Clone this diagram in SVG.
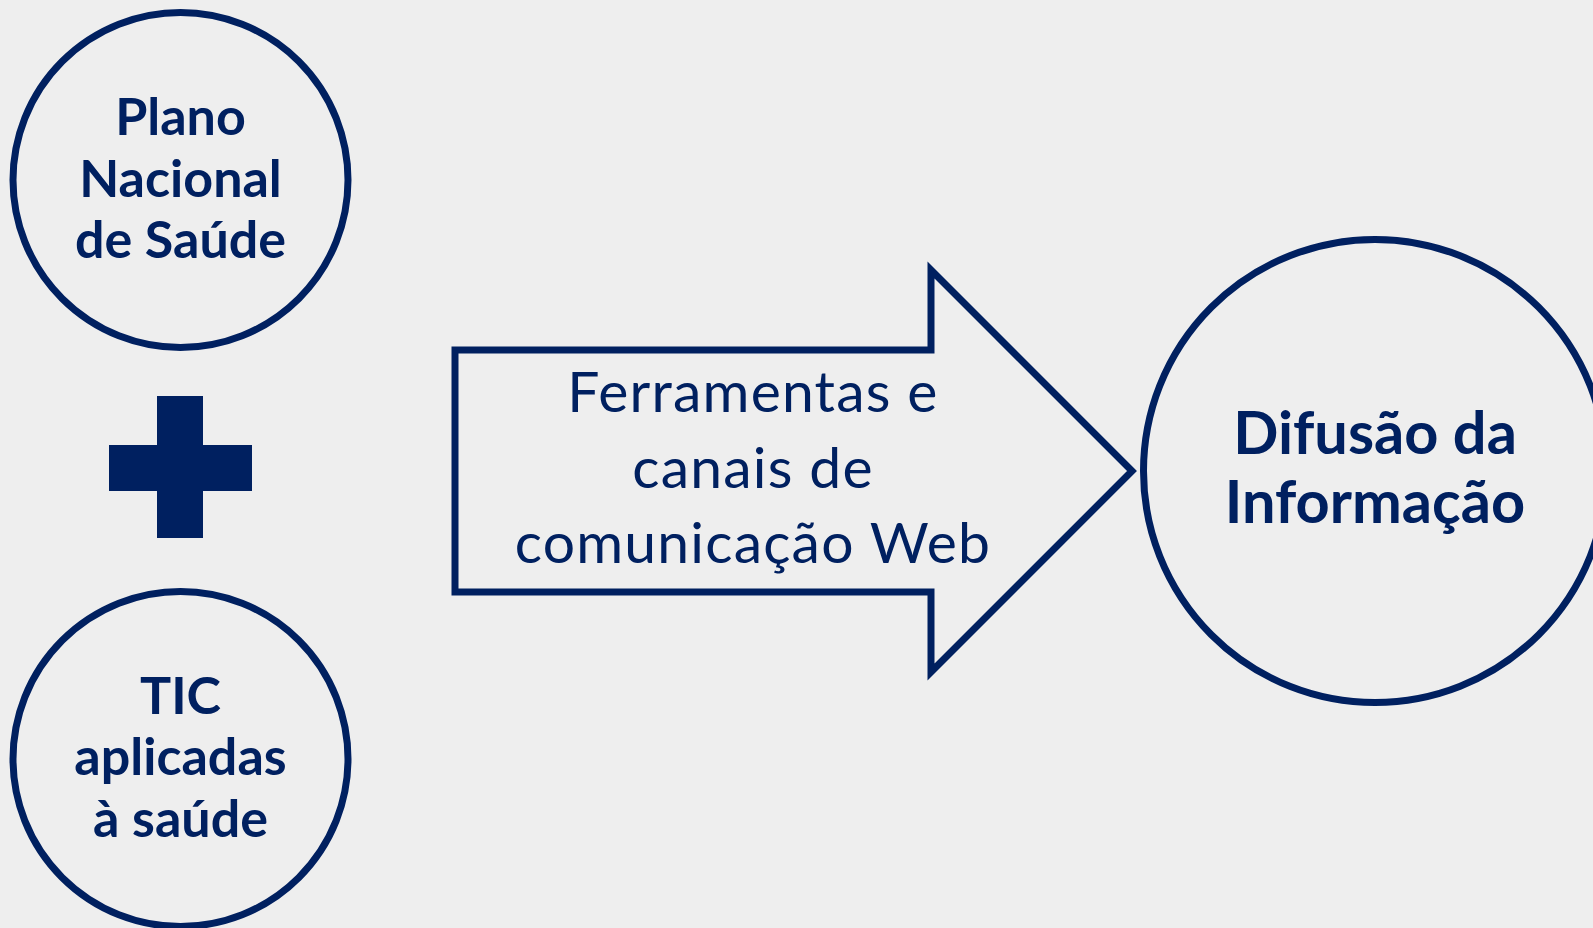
<svg xmlns="http://www.w3.org/2000/svg" width="1593" height="928" viewBox="0 0 1593 928">
<style>
.shape{fill:none;stroke:#002060;stroke-width:7}
.b{font-family:Lato,"Open Sans","Liberation Sans",sans-serif;font-weight:bold;fill:#002060;text-anchor:middle}
.r{font-family:Lato,"Open Sans","Liberation Sans",sans-serif;font-weight:normal;fill:#002060;text-anchor:middle}
</style>
<rect x="0" y="0" width="1593" height="928" fill="#eeeeee"/>
<g id="plano">
<circle class="shape" cx="180.5" cy="180" r="167.5"/>
<text class="b" x="180.5" font-size="52"><tspan x="180.5" y="135">Plano</tspan><tspan x="180.5" y="197">Nacional</tspan><tspan x="180.5" y="258">de Saúde</tspan></text>
</g>
<g id="plus">
<rect x="157" y="396" width="46" height="142" fill="#002060"/>
<rect x="109" y="445" width="143" height="46" fill="#002060"/>
</g>
<g id="tic">
<circle class="shape" cx="180.5" cy="759" r="167.5"/>
<text class="b" x="180.5" font-size="52"><tspan x="180.5" y="714">TIC</tspan><tspan x="180.5" y="775">aplicadas</tspan><tspan x="180.5" y="837">à saúde</tspan></text>
</g>
<g id="connectors">
<g id="ferramentas">
<polygon class="shape" points="455,350 931,350 931,270 1132,471 931,672 931,592 455,592"/>
<text class="r" font-size="57" letter-spacing="1.2"><tspan x="753" y="412">Ferramentas e</tspan><tspan x="753" y="488">canais de</tspan><tspan x="753" y="563">comunicação Web</tspan></text>
</g>
</g>
<g id="difusao">
<circle class="shape" cx="1375" cy="471" r="231.5"/>
<text class="b" font-size="59.5"><tspan x="1375" y="454">Difusão da</tspan><tspan x="1375" y="523">Informação</tspan></text>
</g>
</svg>
